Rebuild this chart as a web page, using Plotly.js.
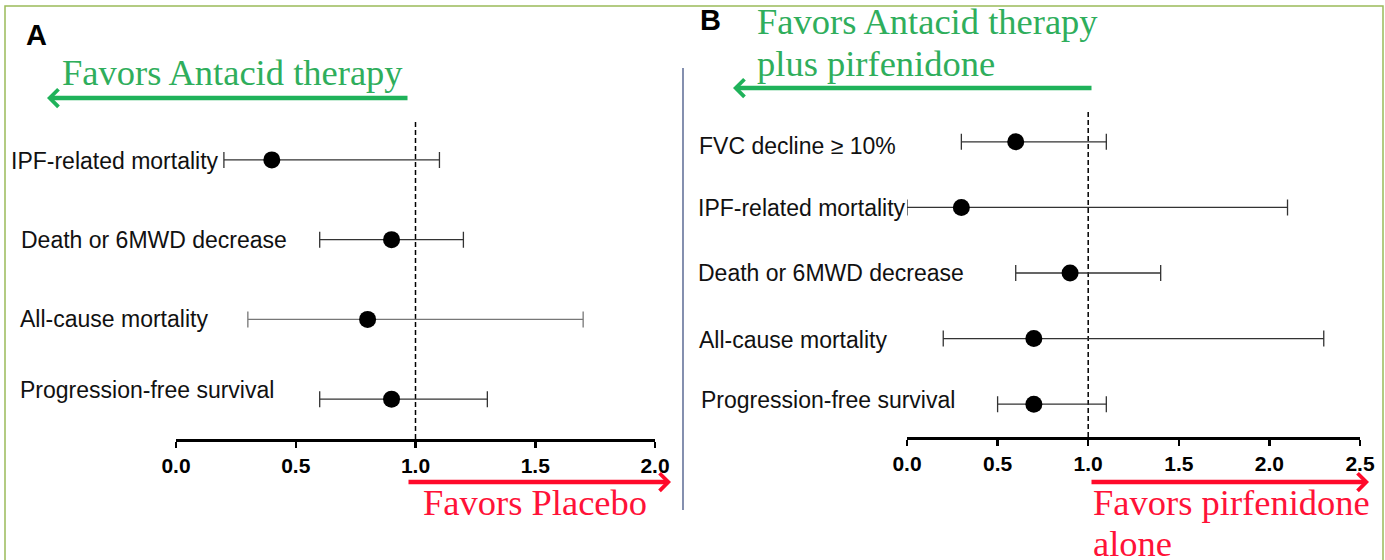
<!DOCTYPE html>
<html><head><meta charset="utf-8">
<script src="https://cdn.plot.ly/plotly-3.0.1.min.js"></script>
<style>html,body{margin:0;padding:0;background:#fff;overflow:hidden}</style>
</head><body><div id="chart" style="width:1385px;height:560px"></div>
<script>
// ---------- data ----------
const outcomesA = ["IPF-related mortality", "Death or 6MWD decrease", "All-cause mortality", "Progression-free survival"];
const estA  = [0.4, 0.9, 0.8, 0.9];
const lowA  = [0.2, 0.6, 0.3, 0.6];
const highA = [1.1, 1.2, 1.7, 1.3];
const ticksA = [0, 0.5, 1.0, 1.5, 2.0];

const outcomesB = ["FVC decline \u2265 10%", "IPF-related mortality", "Death or 6MWD decrease", "All-cause mortality", "Progression-free survival"];
const estB  = [0.6, 0.3, 0.9, 0.7, 0.7];
const lowB  = [0.3, 0.0, 0.6, 0.2, 0.5];
const highB = [1.1, 2.1, 1.4, 2.3, 1.1];
const ticksB = [0, 0.5, 1.0, 1.5, 2.0, 2.5];

const nullValue = 1.0;
const panelLetters = ["A", "B"];
const favorLeftA = ["Favors Antacid therapy"];
const favorRightA = ["Favors Placebo"];
const favorLeftB = ["Favors Antacid therapy", "plus pirfenidone"];
const favorRightB = ["Favors pirfenidone", "alone"];

// ---------- layout helpers ----------
const W = 1385, H = 560;
const px = v => v / W;
const py = v => 1 - v / H;
const GREEN_T = "#2fae5c", GREEN_A = "#1fb25a", RED_T = "#ff1238", RED_A = "#ff0a2a";
const SERIF = "Liberation Serif, Times New Roman, serif";
const SANS = "Liberation Sans, Arial, sans-serif";

const traces = [];
const annotations = [];

function buildPanel(outcomes, est, low, high, xa, ya, errColors, labelX, labelShift) {
  const n = outcomes.length;
  const ypos = outcomes.map((_, i) => n - 1 - i);
  // reference line at null value
  traces.push({
    x: [nullValue, nullValue], y: [-0.5, n - 0.5], xaxis: xa, yaxis: ya,
    mode: "lines", line: { color: "#000", width: 1.5, dash: "5px,3px" },
    hoverinfo: "skip", showlegend: false, cliponaxis: false
  });
  outcomes.forEach((name, i) => {
    traces.push({
      x: [est[i]], y: [ypos[i]], xaxis: xa, yaxis: ya, type: "scatter", mode: "markers",
      name: name, showlegend: false, cliponaxis: false,
      marker: { color: "#000", size: 17 },
      error_x: {
        type: "data", symmetric: false,
        array: [high[i] - est[i]], arrayminus: [est[i] - low[i]],
        color: errColors[i], thickness: 1.3, width: 8
      }
    });
    annotations.push({
      xref: "paper", yref: ya, x: px(labelX[i]), y: ypos[i], xanchor: "left", yanchor: "middle",
      yshift: labelShift[i], text: name, showarrow: false,
      font: { family: SANS, size: 23, color: "#111" }
    });
  });
}

buildPanel(outcomesA, estA, lowA, highA, "x", "y",
  ["#333", "#333", "#777", "#333"], [9, 19, 18, 18], [-1, 0, 0, 9]);
buildPanel(outcomesB, estB, lowB, highB, "x2", "y2",
  ["#333", "#333", "#333", "#333", "#333"], [697, 696, 696, 697, 699], [-4, -1, 0, -1, 4]);

// arrows
function arrow(xHead, yHead, xTail, color) {
  annotations.push({
    xref: "paper", yref: "paper", x: px(xHead), y: py(yHead),
    ax: xTail - xHead, ay: 0, axref: "pixel", ayref: "pixel",
    text: "", showarrow: true, arrowhead: 4, arrowsize: 0.75, arrowwidth: 4.5, arrowcolor: color, standoff: 0
  });
}
arrow(47, 98, 409, GREEN_A);
arrow(671, 482, 407, RED_A);
arrow(733, 88, 1093, GREEN_A);
arrow(1369, 482, 1090, RED_A);

function txt(t, x, y, color) {
  annotations.push({
    xref: "paper", yref: "paper", x: px(x), y: py(y), xanchor: "left", yanchor: "middle",
    text: t, showarrow: false, font: { family: SERIF, size: 36.5, color: color }
  });
}
txt(favorLeftA[0], 60, 72, GREEN_T);
txt(favorRightA[0], 421, 502, RED_T);
txt(favorLeftB[0], 755, 22, GREEN_T);
txt(favorLeftB[1], 755, 63, GREEN_T);
txt(favorRightB[0], 1091, 502, RED_T);
txt(favorRightB[1], 1091, 543, RED_T);

// panel letters
annotations.push({ xref: "paper", yref: "paper", x: px(24), y: py(35), xanchor: "left", yanchor: "middle",
  text: panelLetters[0], showarrow: false, font: { family: SANS, size: 29, color: "#000", weight: "bold" } });
annotations.push({ xref: "paper", yref: "paper", x: px(698), y: py(20), xanchor: "left", yanchor: "middle",
  text: panelLetters[1], showarrow: false, font: { family: SANS, size: 29, color: "#000", weight: "bold" } });

function xAxis(domain, ticks, anchor) {
  return {
    domain: domain, range: [ticks[0], ticks[ticks.length - 1]], anchor: anchor,
    tickvals: ticks, ticktext: ticks.map(v => v.toFixed(1)),
    showline: true, linewidth: 3, linecolor: "#000", mirror: false,
    ticks: "outside", ticklen: 6, tickwidth: 2.5, tickcolor: "#000",
    tickfont: { family: SANS, size: 21, color: "#000", weight: "bold" },
    showgrid: false, zeroline: false, fixedrange: true
  };
}

const layout = {
  width: W, height: H,
  margin: { l: 0, r: 0, t: 0, b: 0 },
  paper_bgcolor: "#fff", plot_bgcolor: "rgba(0,0,0,0)",
  showlegend: false,
  xaxis: xAxis([px(176), px(655)], ticksA, "y"),
  yaxis: { domain: [py(439), py(120)], range: [-0.5, outcomesA.length - 0.5], visible: false, fixedrange: true },
  xaxis2: xAxis([px(907), px(1360)], ticksB, "y2"),
  yaxis2: { domain: [py(437), py(109)], range: [-0.5, outcomesB.length - 0.5], visible: false, fixedrange: true, anchor: "x2" },
  annotations: annotations,
  shapes: [
    { type: "rect", xref: "paper", yref: "paper", x0: px(5), x1: px(1383), y0: py(575), y1: py(6),
      line: { color: "#9bbb59", width: 1.5 }, fillcolor: "rgba(0,0,0,0)" },
    { type: "line", xref: "paper", yref: "paper", x0: px(683), x1: px(683), y0: py(510), y1: py(68),
      line: { color: "#33457a", width: 1.2 } }
  ]
};

Plotly.newPlot("chart", traces, layout, { staticPlot: true, displayModeBar: false });
</script>
</body></html>
